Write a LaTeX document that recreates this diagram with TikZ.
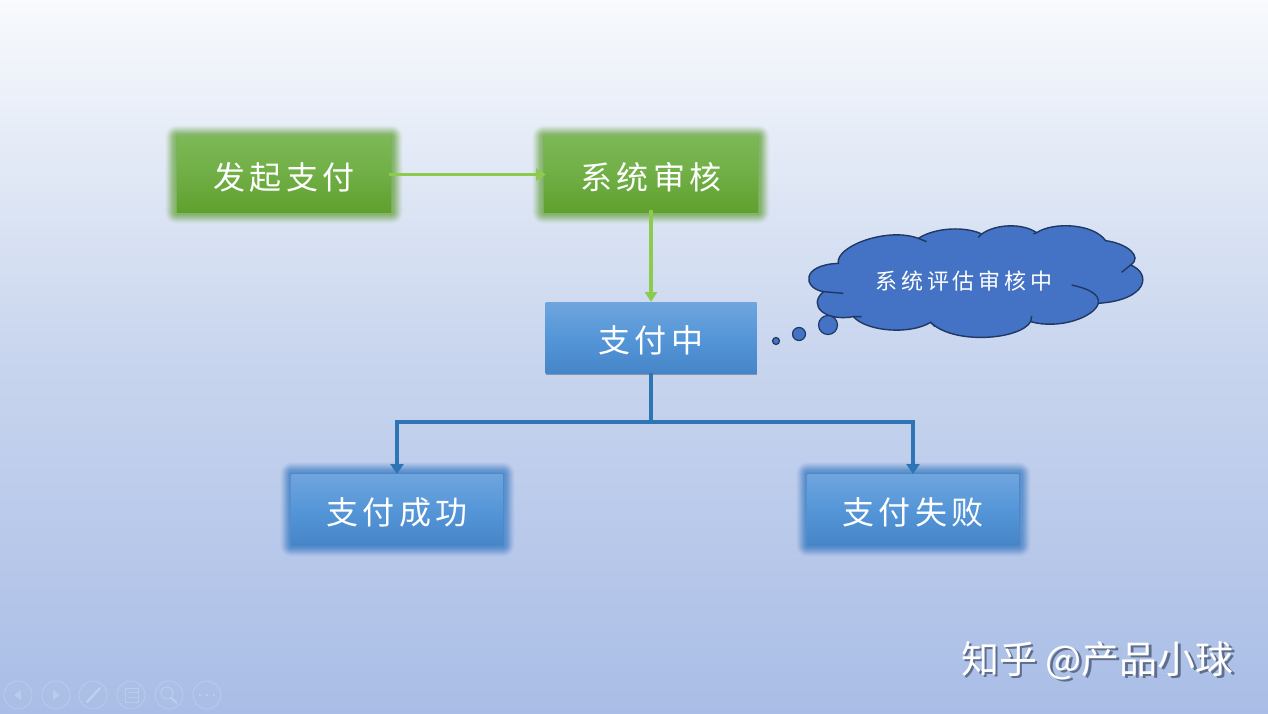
\documentclass[tikz,border=0pt]{standalone}
\usepackage{fontspec}
\usetikzlibrary{positioning, arrows.meta}
\newfontfamily\boxfont[LetterSpace=13]{Noto Sans CJK SC}
\newfontfamily\cloudfont[LetterSpace=18]{Noto Sans CJK SC}
\newfontfamily\markfont{Noto Sans CJK SC}
\definecolor{greentop}{HTML}{7CB856}
\definecolor{greenbot}{HTML}{5FA02D}
\definecolor{greenglow}{HTML}{6FA94A}
\definecolor{greenline}{HTML}{8CCB4E}
\definecolor{bluetop}{HTML}{6FA5DE}
\definecolor{bluemid}{HTML}{5596D8}
\definecolor{bluebot}{HTML}{4686C8}
\definecolor{blueglow}{HTML}{3F7FC6}
\definecolor{blueline}{HTML}{2E75B6}
\definecolor{cloudfill}{HTML}{4472C4}
\definecolor{cloudline}{HTML}{1F3864}
\definecolor{pagetop}{HTML}{F8FAFD}
\definecolor{pagemid}{HTML}{C8D5EE}
\definecolor{pagebot}{HTML}{A9BDE6}
\definecolor{markshade}{HTML}{5F6E8C}

\begin{document}
\begin{tikzpicture}[x=1pt, y=-1pt]
	% Define style
	\tikzset{
		softglow/.style={
			preaction={draw=#1, draw opacity=.04, line width=24pt, line join=round},
			preaction={draw=#1, draw opacity=.06, line width=22pt, line join=round},
			preaction={draw=#1, draw opacity=.08, line width=20pt, line join=round},
			preaction={draw=#1, draw opacity=.10, line width=18pt, line join=round},
			preaction={draw=#1, draw opacity=.12, line width=16pt, line join=round},
			preaction={draw=#1, draw opacity=.14, line width=14pt, line join=round},
			preaction={draw=#1, draw opacity=.16, line width=12pt, line join=round},
			preaction={draw=#1, draw opacity=.18, line width=10pt, line join=round},
			preaction={draw=#1, draw opacity=.22, line width=8pt, line join=round},
			preaction={draw=#1, draw opacity=.26, line width=5pt, line join=round},
			preaction={draw=#1, draw opacity=.40, line width=2pt, line join=round}
		},
		greenbox/.style={rectangle, minimum width=214pt, minimum height=75pt, outer sep=0pt, inner sep=0pt, text=white, text height=32pt, text depth=2pt, font=\boxfont\fontsize{32}{38}\selectfont, softglow=greenglow, top color=greentop, bottom color=greenbot, middle color=greentop!60!greenbot},
		bluebox/.style={rectangle, minimum width=211pt, minimum height=71pt, outer sep=0pt, inner sep=0pt, text=white, text height=32pt, text depth=2pt, font=\boxfont\fontsize{32}{38}\selectfont, top color=bluetop, bottom color=bluebot, middle color=bluemid},
		downshade/.style={preaction={fill=black, fill opacity=.3, transform canvas={yshift=-2pt}}},
		greenarrow/.style={draw=greenline, line width=3.5pt, -{Triangle[length=10pt, width=12pt]}},
		bluearrow/.style={draw=blueline, line width=3.5pt, -{Triangle[length=10pt, width=13pt]}},
		bubble/.style={circle, inner sep=0pt, outer sep=0pt, fill=cloudfill, draw=cloudline, line width=1.2pt},
		toolbtn/.style={circle, minimum size=28pt, inner sep=0pt, draw=white, draw opacity=.2, line width=.8pt}
	}

	% Background
	\shade [use as bounding box, top color=pagetop, bottom color=pagebot, middle color=pagemid] (0,0) rectangle (1268,714);

	% Define blocks
	\node (launch) [greenbox] at (284,174.5) {发起支付};
	\node (review) [greenbox, right=153pt of launch] {系统审核};
	\node (paying) [bluebox, downshade, below=90pt of review] {支付中};
	\node (success) [bluebox, softglow=blueglow, below=101pt of paying, xshift=-254pt] {支付成功};
	\node (failure) [bluebox, softglow=blueglow, below=101pt of paying, xshift=262pt] {支付失败};

	% Define arrows
	\draw [greenarrow, shorten <=-2pt, shorten >=-2pt] (launch) -- (review);
	\draw [greenarrow, shorten <=-2pt] (review) -- (paying);
	\draw [bluearrow] (paying.south) -- ++(0,49) -| (success.north);
	\draw [bluearrow] (paying.south) -- ++(0,49) -| (failure.north);

	% Thought cloud
	\begin{scope}[shift={(760,210)}, x=.3333pt, y=-.3333pt]
		\draw [fill=cloudfill, draw=cloudline, line width=1.4pt]
			(235,160) .. controls (225,110) and (380,50) .. (475,85)
			.. controls (530,50) and (620,50) .. (665,72)
			.. controls (710,40) and (790,40) .. (830,68)
			.. controls (880,35) and (1000,40) .. (1037,92)
			.. controls (1100,100) and (1150,140) .. (1112,165)
			.. controls (1175,190) and (1165,270) .. (1015,280)
			.. controls (1005,320) and (900,360) .. (812,335)
			.. controls (780,390) and (580,405) .. (512,337)
			.. controls (450,375) and (320,365) .. (280,320)
			.. controls (200,335) and (140,290) .. (190,245)
			.. controls (130,235) and (120,165) .. (235,160) -- cycle;
		\draw [draw=cloudline, line width=1.4pt] (475,85) -- (500,95) (665,72) -- (655,82) (830,68) -- (820,72)
			(1112,165) -- (1085,187) (1015,280) .. controls (1020,250) and (980,235) .. (935,225)
			(812,335) -- (815,318) (512,337) -- (525,350) (280,320) -- (305,320) (190,245) -- (250,250);
	\end{scope}
	\node (thought) [text=white, inner sep=0pt, font=\cloudfont\fontsize{22}{26}\selectfont] at (964,281) {系统评估审核中};
	\node (bubblea) [bubble, minimum size=19pt] at (828,325) {};
	\node (bubbleb) [bubble, minimum size=13pt] at (799,334) {};
	\node (bubblec) [bubble, minimum size=7pt] at (776,341) {};

	% Watermark
	\node (markshadow) [text=markshade, inner sep=0pt, font=\markfont\fontsize{38}{44}\selectfont] at (1100,663) {知乎 @产品小球};
	\node (mark) [text=white, inner sep=0pt, font=\markfont\fontsize{38}{44}\selectfont] at (1097.5,660.5) {知乎 @产品小球};

	% Player buttons
	\foreach \name/\xpos in {back/18, next/56, pen/93, list/131, zoom/169, more/207}
		\node (\name) [toolbtn] at (\xpos,695) {};
	\fill [white, opacity=.2] (14,695) -- (21,690) -- (21,700) -- cycle;
	\fill [white, opacity=.2] (60,695) -- (53,690) -- (53,700) -- cycle;
	\draw [white, opacity=.3, line width=2pt, line cap=round] (87,702) -- (100,688);
	\draw [white, opacity=.2, line width=1pt] (125,688) rectangle (138,702) (128,692) -- (138,692) (128,697) -- (138,697);
	\draw [white, opacity=.2, line width=1pt] (167,693) circle (6pt);
	\draw [white, opacity=.3, line width=1.5pt] (171,698) -- (177,703);
	\foreach \xpos in {200, 207, 214}
		\fill [white, opacity=.3] (\xpos,695) circle (1.2pt);
\end{tikzpicture}
\end{document}
